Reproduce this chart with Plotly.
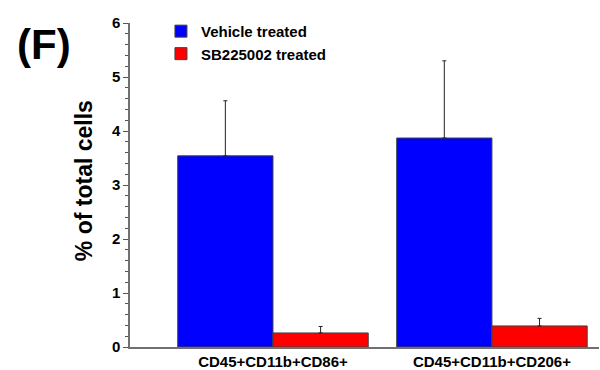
import plotly.graph_objects as go

categories = ["CD45+CD11b+CD86+", "CD45+CD11b+CD206+"]
vehicle = [3.54, 3.87]
vehicle_err = [1.02, 1.43]
sb = [0.26, 0.39]
sb_err = [0.12, 0.14]
series_names = ["Vehicle treated", "SB225002 treated"]
y_ticks = [0, 1, 2, 3, 4, 5, 6]

FONT = "Liberation Sans, Arial, sans-serif"

fig = go.Figure()
fig.add_trace(go.Bar(
    x=categories, y=vehicle, name=series_names[0],
    marker=dict(color="#0000FF", line=dict(color="#404040", width=1)),
    error_y=dict(type="data", array=vehicle_err, symmetric=False, arrayminus=[0, 0],
                 color="#222222", thickness=1, width=2),
))
fig.add_trace(go.Bar(
    x=categories, y=sb, name=series_names[1],
    marker=dict(color="#FF0000", line=dict(color="#404040", width=1)),
    error_y=dict(type="data", array=sb_err, symmetric=False, arrayminus=[0, 0],
                 color="#222222", thickness=1, width=2),
))

fig.update_layout(
    width=600, height=370,
    margin=dict(l=130, r=1, t=23, b=23),
    paper_bgcolor="white", plot_bgcolor="white",
    barmode="group", bargap=0.13, bargroupgap=0,
    font=dict(family=FONT, color="black"),
    showlegend=True,
    legend=dict(x=0.066, y=1.025, xanchor="left", yanchor="top",
                bgcolor="rgba(0,0,0,0)", font=dict(size=15, family=FONT, weight="bold"),
                tracegroupgap=0),
    xaxis=dict(type="category", range=[-0.653, 1.489],
               showline=True, linecolor="#707070", linewidth=1.5,
               ticks="", showgrid=False, zeroline=False,
               tickfont=dict(size=15, family=FONT, weight="bold")),
    xaxis2=dict(type="category", overlaying="x", side="top", range=[-0.653, 1.489],
                categoryorder="array", categoryarray=categories,
                showline=True, linecolor="#707070", linewidth=1.5,
                ticks="outside", ticklen=3, tickcolor="#555555",
                showticklabels=False, showgrid=False, zeroline=False,
                tickmode="array", tickvals=categories),
    yaxis=dict(range=[0, 6], tickmode="array", tickvals=y_ticks,
               ticktext=["<b>%d</b>" % v for v in y_ticks],
               ticks="outside", ticklen=5,
               tickcolor="#555555", tickwidth=1,
               showline=True, linecolor="#707070", linewidth=1.5,
               showgrid=False, zeroline=False,
               tickfont=dict(size=15, family=FONT, color="black"),
               minor=dict(dtick=0.2, tick0=0, ticks="outside", ticklen=3, tickcolor="#555555", tickwidth=1)),
)

fig.add_annotation(text="<b>% of total cells</b>", xref="paper", yref="paper",
                   x=-0.098, y=0.512, xanchor="center", yanchor="middle",
                   textangle=-90, showarrow=False,
                   font=dict(size=23, family=FONT))
fig.add_annotation(text="<b>(F)</b>", xref="paper", yref="paper",
                   x=-0.183, y=0.935, xanchor="center", yanchor="middle",
                   showarrow=False,
                   font=dict(size=42, family=FONT))

fig.write_html("out.html")
